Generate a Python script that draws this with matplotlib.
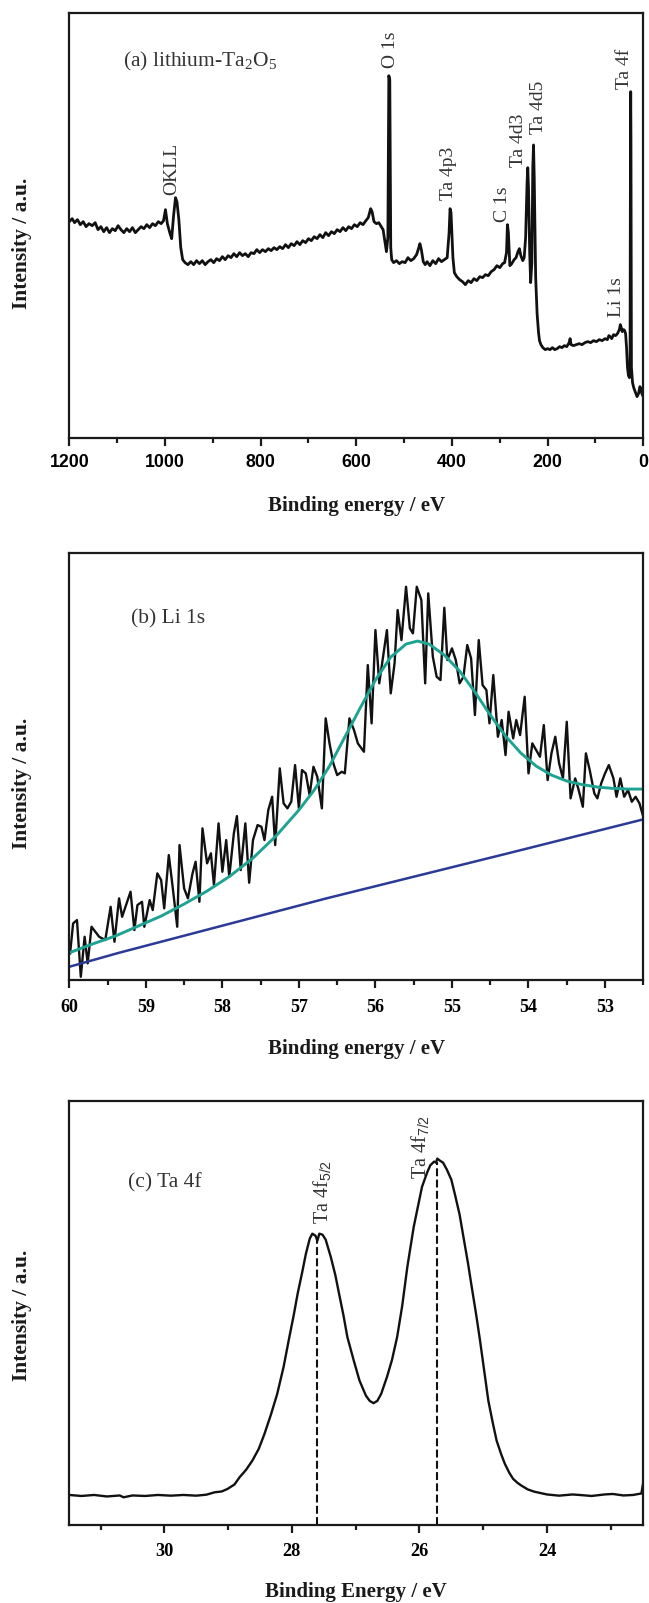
import matplotlib
matplotlib.use("Agg")
import matplotlib.pyplot as plt

plt.rcParams['font.family'] = ['Liberation Serif', 'DejaVu Serif']
plt.rcParams['mathtext.fontset'] = 'custom'
plt.rcParams['mathtext.rm'] = 'Liberation Serif'
plt.rcParams['mathtext.it'] = 'Liberation Serif:italic'
plt.rcParams['mathtext.sf'] = 'Liberation Sans'

# ---------------- data: panel (a) survey ----------------
a_energy = [1200, 1194, 1189, 1183, 1177, 1171, 1165, 1159, 1152, 1146, 1140, 1134, 1128, 1122, 1116, 1110,
            1104, 1098, 1092, 1086, 1080, 1074, 1068, 1062, 1056, 1050, 1044, 1038, 1032, 1026, 1020, 1014,
            1008, 1003, 999, 995, 990, 986, 982, 978, 975, 971, 967, 963, 958, 952, 946, 940, 934, 928, 922,
            916, 910, 904, 898, 892, 886, 880, 874, 868, 862, 856, 850, 844, 838, 832, 826, 820, 814, 808,
            802, 796, 790, 784, 778, 772, 766, 760, 754, 748, 742, 736, 730, 724, 718, 712, 706, 700, 694,
            688, 682, 676, 670, 664, 658, 652, 646, 640, 634, 628, 622, 616, 610, 604, 598, 592, 586, 580,
            575, 570, 567, 563, 558, 553, 548, 544, 540, 537, 534, 532, 530, 528, 526, 522, 516, 510, 504,
            498, 492, 486, 480, 474, 470, 467, 464, 460, 456, 452, 446, 440, 434, 428, 422, 416, 410, 406,
            404, 402, 398, 395, 390, 384, 378, 372, 366, 360, 354, 348, 342, 336, 330, 324, 318, 312, 306,
            300, 294, 290, 286, 284, 282, 279, 275, 270, 266, 262, 259, 256, 252, 249, 246, 243, 241.5, 240,
            237.5, 235.5, 233, 231, 229.5, 228, 225, 222, 219, 217, 214, 210, 205, 200, 195, 190, 185, 180,
            175, 170, 165, 160, 155, 153, 151, 146, 140, 134, 128, 122, 116, 110, 104, 98, 92, 86, 80, 75,
            72, 69, 66, 62, 58, 54, 50, 48, 46, 44, 41, 39, 37, 35, 33, 31, 29, 27.7, 26.8, 26.3, 25.8,
            24.8, 22.5, 20, 17, 13, 10, 7, 5, 3, 0]
a_intensity = [216, 219, 215, 218, 213, 216, 211, 214, 212, 215, 208, 211, 206, 210, 205, 209,
               207, 212, 208, 205, 209, 206, 210, 205, 208, 211, 209, 213, 210, 214, 212, 216,
               214, 217, 228, 214, 205, 199, 222, 240, 236, 218, 190, 178, 175, 173, 176, 173, 177, 174, 177,
               173, 176, 178, 175, 179, 177, 181, 178, 182, 180, 184, 181, 185, 182, 184, 181, 185, 184, 188,
               185, 188, 186, 189, 187, 190, 188, 191, 189, 193, 190, 194, 192, 196, 193, 197, 195, 199, 197,
               201, 199, 203, 200, 205, 202, 206, 204, 208, 206, 210, 207, 211, 209, 213, 211, 215, 213, 217,
               220, 229, 226, 216, 214, 215, 211, 208, 195, 186, 200, 362, 358, 190, 178, 175, 177, 174, 176,
               175, 180, 177, 179, 183, 189, 194, 188, 176, 173, 176, 172, 177, 174, 179, 176, 178, 180, 205,
               229, 225, 180, 165, 161, 158, 156, 153, 157, 155, 159, 157, 161, 160, 163, 162, 166, 168, 172,
               170, 174, 175, 185, 213, 205, 172, 174, 178, 180, 186, 189, 182, 177, 180, 200, 255, 270, 250,
               185, 155, 175, 270, 292.7, 260, 160, 124, 105, 97, 93, 90, 88, 89, 88, 90, 88, 89,
               91, 90, 92, 91, 95, 99, 93, 92, 93, 94, 93, 95, 96, 95, 97, 96, 98, 97, 99, 98,
               102, 101, 99, 103, 102, 104, 108, 113, 110, 106, 108, 107, 104, 90, 70, 62, 60, 65, 300, 346, 300,
               70, 55, 50, 46, 41, 44, 51, 49, 44, 41]
a_peak_names = ['OKLL', 'O 1s', 'Ta 4p3', 'C 1s', 'Ta 4d3', 'Ta 4d5', 'Li 1s', 'Ta 4f']
a_peak_energy = [986, 528, 406.7, 294, 261, 219, 56, 39]
a_peak_label_y = [242.7, 369.4, 237.7, 216, 271, 304, 121, 349]

# ---------------- data: panel (b) Li 1s ----------------
b_energy = [59.99, 59.95, 59.90, 59.85, 59.80, 59.76, 59.71, 59.61, 59.53, 59.46, 59.41, 59.35, 59.31, 59.20,
            59.15, 59.11, 59.05, 59.02, 58.95, 58.91, 58.85, 58.80, 58.76, 58.70, 58.65, 58.59, 58.56, 58.50,
            58.45, 58.39, 58.35, 58.30, 58.26, 58.20, 58.15, 58.11, 58.05, 58.00, 57.95, 57.91, 57.85, 57.81,
            57.76, 57.70, 57.65, 57.60, 57.54, 57.49, 57.45, 57.40, 57.35, 57.31, 57.25, 57.20, 57.15, 57.10,
            57.05, 57.00, 56.96, 56.91, 56.86, 56.81, 56.76, 56.70, 56.65, 56.60, 56.55, 56.50, 56.44, 56.40,
            56.34, 56.28, 56.23, 56.15, 56.10, 56.05, 56.00, 55.95, 55.85, 55.80, 55.75, 55.71, 55.66, 55.60,
            55.55, 55.51, 55.46, 55.40, 55.35, 55.31, 55.25, 55.20, 55.15, 55.10, 55.06, 55.00, 54.95, 54.90,
            54.85, 54.80, 54.75, 54.70, 54.65, 54.60, 54.55, 54.51, 54.46, 54.40, 54.35, 54.30, 54.26, 54.20,
            54.16, 54.11, 54.05, 54.00, 53.95, 53.90, 53.85, 53.80, 53.75, 53.70, 53.65, 53.60, 53.55, 53.50,
            53.45, 53.39, 53.35, 53.29, 53.25, 53.20, 53.14, 53.10, 53.05, 53.00, 52.95, 52.89, 52.85, 52.80,
            52.75, 52.70, 52.65, 52.60, 52.55, 52.50]
b_intensity = [26.7, 56.7, 60, 3.3, 43.3, 16.7, 53.3, 43.3, 40, 73.3, 38.3, 81.7, 63.3, 88.3, 50, 75, 78.3,
               53.3, 80, 70, 106.7, 100, 71.7, 125, 93.3, 53.3, 135, 91.7, 81.7, 106.7, 118.3, 78.3, 151.7,
               116.7, 126.7, 95, 156.7, 108.3, 140, 103.3, 146.7, 164, 110, 156.7, 97.3, 140, 155, 153.3, 140,
               170, 183.3, 135, 211.7, 176.7, 171.7, 178.3, 215, 171.7, 210, 206.7, 185, 213.3, 203.3, 171.7,
               261.7, 236.7, 216.7, 205, 208.3, 206.7, 261.7, 250, 236.7, 228.3, 315, 256.7, 350, 296.7, 350,
               286.7, 316.7, 370, 340, 393.3, 351.7, 346.7, 393.3, 380, 296.7, 386.7, 323.3, 303.3, 300, 372.3,
               320, 331.7, 320, 296.7, 303.3, 335, 321.7, 265, 340, 295, 290, 256.7, 305, 243.3, 260, 225,
               268.3, 241.7, 260, 245, 283.3, 206.7, 236.7, 230, 223.3, 255, 200, 226.7, 243.3, 216.7, 201.7,
               258.3, 181.7, 201.7, 191.7, 173.3, 226.7, 210, 186.7, 181.7, 196.7, 206.7, 215, 201.7, 183.3,
               201.7, 183.3, 190, 178.3, 183.3, 176.7, 163.3]
b_fit_energy = [60.0, 59.7, 59.4, 59.1, 58.8, 58.5, 58.2, 57.9, 57.6, 57.3, 57.0, 56.8, 56.6, 56.4, 56.2,
                56.0, 55.8, 55.6, 55.45, 55.3, 55.1, 54.9, 54.7, 54.5, 54.3, 54.1, 53.9, 53.7, 53.5, 53.3,
                53.1, 52.9, 52.7, 52.5]
b_fit_intensity = [27.3, 36, 44, 54, 64, 76, 89, 104, 122, 144, 170, 190, 214, 243, 272, 300, 323, 336, 339,
                   336, 325, 309, 288, 265, 244, 227, 214, 205, 199, 195.5, 193, 191.7, 191, 191]
b_bg_energy = [60.0, 59.35, 56.64, 54.27, 52.5]
b_bg_intensity = [13.3, 27.3, 81.7, 126.7, 160.7]

# ---------------- data: panel (c) Ta 4f ----------------
c_energy = [31.49, 31.3, 31.1, 30.9, 30.7, 30.64, 30.5, 30.3, 30.1, 29.9, 29.7, 29.5, 29.34, 29.21, 29.1,
            29.01, 28.9, 28.82, 28.72, 28.62, 28.52, 28.43, 28.33, 28.23, 28.13, 28.04, 27.97, 27.91, 27.84,
            27.78, 27.72, 27.68, 27.63, 27.60, 27.57, 27.52, 27.47, 27.39, 27.32, 27.26, 27.19, 27.13, 27.03,
            26.94, 26.84, 26.78, 26.72, 26.66, 26.60, 26.51, 26.43, 26.35, 26.27, 26.19, 26.09, 25.96, 25.88,
            25.83, 25.77, 25.74, 25.72, 25.68, 25.63, 25.57, 25.50, 25.44, 25.37, 25.31, 25.24, 25.18, 25.11,
            25.05, 24.98, 24.92, 24.85, 24.79, 24.72, 24.66, 24.59, 24.53, 24.46, 24.40, 24.30, 24.20, 24.0,
            23.81, 23.6, 23.49, 23.3, 23.1, 22.97, 22.8, 22.65, 22.52, 22.49]
c_intensity = [30, 29, 30, 28.5, 29.5, 27.7, 29.5, 29, 30, 29.3, 30, 29.3, 30.3, 32.7, 33.5, 36, 40.5,
               47.7, 55, 64.3, 76, 91, 110, 131, 158, 187.7, 210, 231, 252, 271, 286, 291, 289, 284, 291,
               290, 285, 267.7, 250, 231, 209, 187.7, 164.3, 144.3, 129.3, 124, 121.7, 124, 131, 147.7, 165,
               187.7, 219, 257.7, 297.7, 337.7, 352, 359.3, 363, 362, 366, 364, 362, 355, 345, 329.3, 310,
               287.7, 262, 237.7, 210, 184.3, 152, 124.3, 102, 84.3, 71, 61, 52, 46, 42, 39.3, 35.5, 33.3,
               30.5, 29.3, 30.5, 30, 29, 30.5, 31, 29.5, 30, 31.5, 42.7]
c_peak_energy = [27.60, 25.72]
c_peak_top = [285, 363]
c_peak_names = [r'Ta 4f$_{\mathsf{5/2}}$', r'Ta 4f$_{\mathsf{7/2}}$']
c_label_x = [27.53, 25.99]
c_label_y = [301, 346]

# ---------------- figure ----------------
fig = plt.figure(figsize=(6.49, 16.03), dpi=100)
L, W = 0.1068, 0.8844
ax_a = fig.add_axes([L, 0.7270, W, 0.2647])
ax_b = fig.add_axes([L, 0.3886, W, 0.2662])
ax_c = fig.add_axes([L, 0.04866, W, 0.2646])

TXT = '#333333'
SERIF = ['Liberation Serif', 'DejaVu Serif']
SANS = ['Liberation Sans', 'DejaVu Sans']


def style(ax):
    for s in ax.spines.values():
        s.set_linewidth(1.6)
        s.set_color('#1a1a1a')
    ax.set_yticks([])
    ax.tick_params(axis='x', which='major', direction='out', length=5.5, width=1.6, color='#1a1a1a')
    ax.tick_params(axis='x', which='minor', direction='out', length=3.5, width=1.6, color='#1a1a1a')


# panel (a)
ax_a.plot(a_energy, a_intensity, color='#111111', lw=2.0)
ax_a.set_xlim(1200, 0)
ax_a.set_ylim(0, 424.4)
style(ax_a)
a_major = [1200, 1000, 800, 600, 400, 200, 0]
ax_a.set_xticks(a_major, [str(t) for t in a_major], fontfamily=SANS, fontweight='bold', fontsize=12.8)
ax_a.set_xticks([1100, 900, 700, 500, 300, 100], minor=True)
ax_a.tick_params(axis='x', which='major', pad=6.5)
for name, e, y in zip(a_peak_names, a_peak_energy, a_peak_label_y):
    ax_a.text(e, y, name, rotation=90, ha='center', va='bottom', fontsize=14, color=TXT)
ax_a.text(1088, 371, r'(a) lithium-Ta$_2$O$_5$', ha='left', va='baseline', fontsize=15.5, color=TXT)

# panel (b)
ax_b.plot(b_energy, b_intensity, color='#111111', lw=1.7)
ax_b.plot(b_bg_energy, b_bg_intensity, color='#2b3a96', lw=1.8)
ax_b.plot(b_fit_energy, b_fit_intensity, color='#1ea393', lw=2.1)
ax_b.set_xlim(60, 52.5)
ax_b.set_ylim(0, 426.7)
style(ax_b)
b_major = [60, 59, 58, 57, 56, 55, 54, 53]
ax_b.set_xticks(b_major, [str(t) for t in b_major], fontfamily=SERIF, fontweight='bold', fontsize=13)
ax_b.set_xticks([59.5, 58.5, 57.5, 56.5, 55.5, 54.5, 53.5, 52.5], minor=True)
ax_b.tick_params(axis='x', which='major', pad=8)
ax_b.text(59.195, 356.7, '(b) Li 1s', ha='left', va='baseline', fontsize=15.5, color=TXT)

# panel (c)
ax_c.plot(c_energy, c_intensity, color='#111111', lw=1.7)
for e, top in zip(c_peak_energy, c_peak_top):
    ax_c.plot([e, e], [0, top], color='#111111', lw=1.5, linestyle=(0, (3.8, 1.6)))
for name, x, y in zip(c_peak_names, c_label_x, c_label_y):
    ax_c.text(x, y, name, rotation=90, ha='center', va='bottom', fontsize=14.5, color=TXT)
ax_c.set_xlim(31.49, 22.49)
ax_c.set_ylim(0, 423.7)
style(ax_c)
c_major = [30, 28, 26, 24]
ax_c.set_xticks(c_major, [str(t) for t in c_major], fontfamily=SERIF, fontweight='bold', fontsize=13.2)
ax_c.set_xticks([31, 29, 27, 25, 23], minor=True)
ax_c.tick_params(axis='x', which='major', pad=7.5)
ax_c.text(30.57, 336.7, '(c) Ta 4f', ha='left', va='baseline', fontsize=15.5, color=TXT)

# axis labels
xl = [('Binding energy / eV', ax_a, -0.160), ('Binding energy / eV', ax_b, -0.162),
      ('Binding Energy / eV', ax_c, -0.157)]
for txt, ax, yy in xl:
    ax.set_xlabel(txt, fontsize=15, fontweight='bold', fontfamily=SERIF, color='#1a1a1a')
    ax.xaxis.set_label_coords(0.5, yy)
    ax.xaxis.label.set_va('center')
for ax, yy in [(ax_a, 0.459), (ax_b, 0.462), (ax_c, 0.495)]:
    ax.set_ylabel('Intensity / a.u.', fontsize=15.5, fontweight='bold', fontfamily=SERIF, color='#1a1a1a')
    ax.yaxis.set_label_coords(-0.083, yy)
    ax.yaxis.label.set_va('center')
    ax.yaxis.label.set_ha('center')

fig.savefig('out.png', dpi=100)
